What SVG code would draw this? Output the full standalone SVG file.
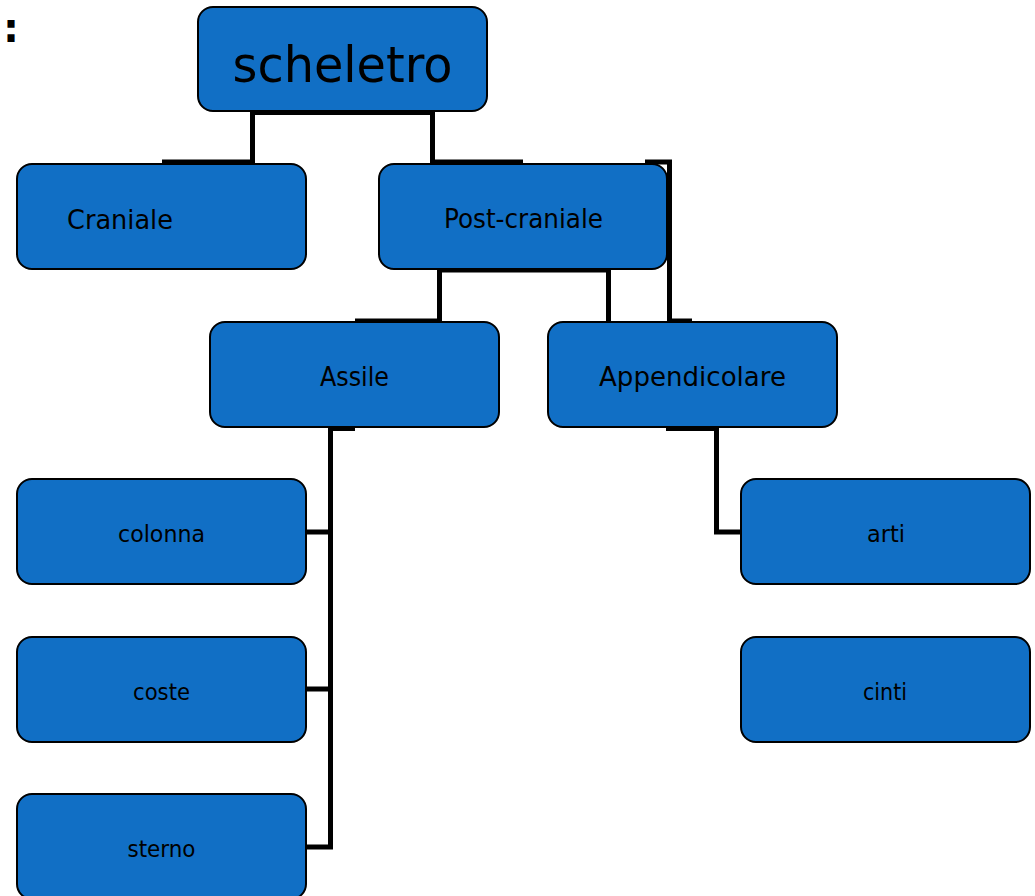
<svg xmlns="http://www.w3.org/2000/svg" width="1035" height="896" viewBox="0 0 1035 896">
<style>
.box{fill:#116FC5;stroke:#000;stroke-width:2}
.lbl{font-family:"DejaVu Sans",sans-serif;fill:#000;text-anchor:middle}
.con{fill:none;stroke:#000;stroke-width:5;stroke-linejoin:miter;stroke-linecap:butt}
</style>
<rect width="1035" height="896" fill="#fff"/>
<text x="11" y="42" font-family="DejaVu Sans,sans-serif" font-weight="bold" font-size="40" text-anchor="middle">:</text>
<g id="connectors">
<path class="con" d="M162,162 H252.5 V112.5 H432.5 V162 H523"/>
<path class="con" d="M645,162 H669.5 V321 H692"/>
<path class="con" d="M355,321 H439.5 V270 H608.5 V321"/>
<path class="con" d="M355,428.5 H330.5 V847 H306 M306,532 H330.5 M306,689 H330.5"/>
<path class="con" d="M666,428.5 H716.5 V532 H741"/>
</g>
<g id="scheletro"><rect class="box" x="198" y="7" width="289" height="104" rx="15"/><text class="lbl" x="342.5" y="82" font-size="50" textLength="220" lengthAdjust="spacingAndGlyphs">scheletro</text></g>
<g id="craniale"><rect class="box" x="17" y="164" width="289" height="105" rx="15"/><text class="lbl" x="67" y="229" font-size="26" style="text-anchor:start" textLength="106" lengthAdjust="spacingAndGlyphs">Craniale</text></g>
<g id="postcraniale"><rect class="box" x="379" y="164" width="288" height="105" rx="15"/><text class="lbl" x="523.5" y="228" font-size="26" textLength="159" lengthAdjust="spacingAndGlyphs">Post-craniale</text></g>
<g id="assile"><rect class="box" x="210" y="322" width="289" height="105" rx="15"/><text class="lbl" x="354.5" y="386" font-size="26" textLength="69" lengthAdjust="spacingAndGlyphs">Assile</text></g>
<g id="appendicolare"><rect class="box" x="548" y="322" width="289" height="105" rx="15"/><text class="lbl" x="692.5" y="386" font-size="26" textLength="187" lengthAdjust="spacingAndGlyphs">Appendicolare</text></g>
<g id="colonna"><rect class="box" x="17" y="479" width="289" height="105" rx="15"/><text class="lbl" x="161.5" y="542" font-size="23" textLength="87" lengthAdjust="spacingAndGlyphs">colonna</text></g>
<g id="coste"><rect class="box" x="17" y="637" width="289" height="105" rx="15"/><text class="lbl" x="161.5" y="700" font-size="23" textLength="57" lengthAdjust="spacingAndGlyphs">coste</text></g>
<g id="sterno"><rect class="box" x="17" y="794" width="289" height="105" rx="15"/><text class="lbl" x="161.5" y="857" font-size="23" textLength="68" lengthAdjust="spacingAndGlyphs">sterno</text></g>
<g id="arti"><rect class="box" x="741" y="479" width="289" height="105" rx="15"/><text class="lbl" x="886" y="542" font-size="23" textLength="38" lengthAdjust="spacingAndGlyphs">arti</text></g>
<g id="cinti"><rect class="box" x="741" y="637" width="289" height="105" rx="15"/><text class="lbl" x="885" y="700" font-size="23" textLength="44" lengthAdjust="spacingAndGlyphs">cinti</text></g>
</svg>
